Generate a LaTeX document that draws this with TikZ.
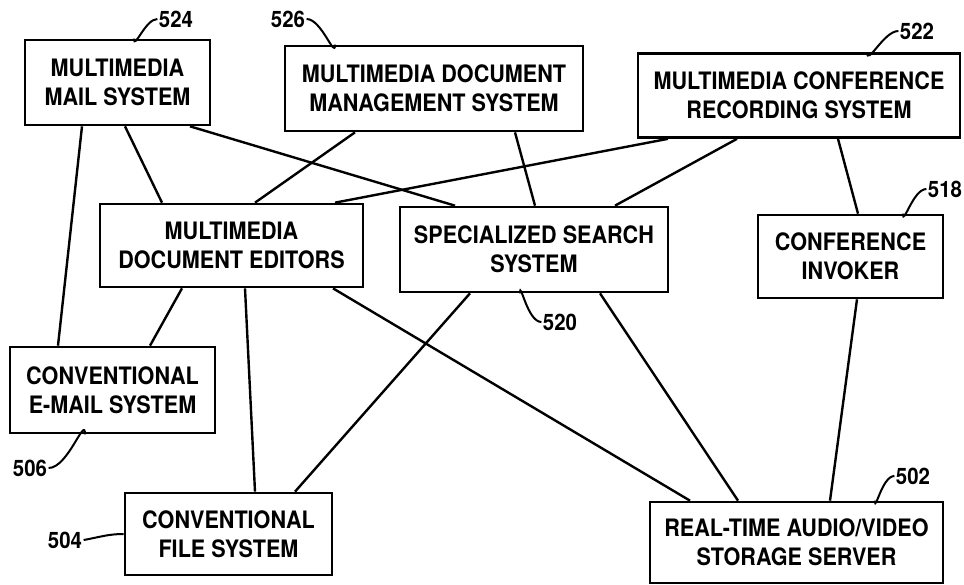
\documentclass[tikz,border=0pt]{standalone}
\usepackage{fontspec}
\newfontfamily\patfont[FakeStretch=0.9]{TeX Gyre Heros}
\usetikzlibrary{positioning,calc}
\tikzset{
	blk/.style={
		draw,
		line width=2pt,
		align=center,
		inner sep=0pt,
		font=\patfont\bfseries\fontsize{18}{21.5}\selectfont
	},
	lnk/.style={line width=1.8pt},
	refnum/.style={inner sep=1pt, font=\patfont\bfseries\fontsize{17}{20}\selectfont},
	lead/.style={line width=1.5pt}
}

\begin{document}
\begin{tikzpicture}[x=0.75pt, y=-0.75pt]
		\useasboundingbox (0,0) rectangle (964,585);
		\node[blk, minimum width=138.75pt, minimum height=63.75pt] (mail) at (117.5,82.5) {MULTIMEDIA\\MAIL SYSTEM};
		\node[blk, minimum width=223.5pt, minimum height=63.75pt] (mgmt) at (434,88.5) {MULTIMEDIA DOCUMENT\\MANAGEMENT SYSTEM};
		\node[blk, minimum width=241.5pt, minimum height=63pt] (confrec) at (799,95.5) {MULTIMEDIA CONFERENCE\\RECORDING SYSTEM};
		\node[blk, minimum width=197.25pt, minimum height=62.25pt] (editors) at (231.5,245.5) {MULTIMEDIA\\DOCUMENT EDITORS};
		\node[blk, minimum width=201pt, minimum height=63.75pt] (search) at (534,249.5) {SPECIALIZED SEARCH\\SYSTEM};
		\node[blk, minimum width=138.75pt, minimum height=62.25pt] (invoker) at (850.5,256.5) {CONFERENCE\\INVOKER};
		\node[blk, minimum width=153.75pt, minimum height=64.5pt] (email) at (112.5,390) {CONVENTIONAL\\E-MAIL SYSTEM};
		\node[blk, minimum width=155.25pt, minimum height=61.5pt] (filesys) at (228.5,534) {CONVENTIONAL\\FILE SYSTEM};
		\node[blk, minimum width=219.75pt, minimum height=60.75pt] (storage) at (796.5,542.5) {REAL-TIME AUDIO/VIDEO\\STORAGE SERVER};
		% links
		\draw[lnk] (mail.south -| 82,0) -- (email.north -| 58,0);
		\draw[lnk] (mail.south -| 125,0) -- (editors.north -| 162,0);
		\draw[lnk] (mail.south -| 190,0) -- (search.north -| 455,0);
		\draw[lnk] (mgmt.south -| 355,0) -- (editors.north -| 255,0);
		\draw[lnk] (mgmt.south -| 515,0) -- (search.north -| 535,0);
		\draw[lnk] (confrec.south -| 668,0) -- (editors.north -| 335,0);
		\draw[lnk] (confrec.south -| 737,0) -- (search.north -| 615,0);
		\draw[lnk] (confrec.south -| 838,0) -- (invoker.north -| 858,0);
		\draw[lnk] (editors.south -| 182,0) -- (email.north -| 150,0);
		\draw[lnk] (editors.south -| 245,0) -- (filesys.north -| 255,0);
		\draw[lnk] (editors.south -| 333,0) -- (storage.north -| 690,0);
		\draw[lnk] (search.south -| 470,0) -- (filesys.north -| 295,0);
		\draw[lnk] (search.south -| 600,0) -- (storage.north -| 738,0);
		\draw[lnk] (invoker.south -| 857,0) -- (storage.north -| 830,0);
		% reference numerals
		\node[refnum] (n524) at (176,19) {524};
		\node[refnum] (n526) at (288,19) {526};
		\node[refnum] (n522) at (917,31) {522};
		\node[refnum] (n518) at (945,189) {518};
		\node[refnum] (n520) at (560,322) {520};
		\node[refnum] (n506) at (30,468) {506};
		\node[refnum] (n504) at (65,540) {504};
		\node[refnum] (n502) at (913,476) {502};
		\draw[lead] (mail.north -| 134,0) to[out=-90,in=180] (n524.west);
		\draw[lead] (n526.east) to[out=0,in=-90] (mgmt.north -| 335,0);
		\draw[lead] (n522.west) to[out=180,in=-90] (confrec.north -| 867,0);
		\draw[lead] (n518.west) to[out=180,in=-90] (invoker.north -| 903,0);
		\draw[lead] (search.south -| 520,0) to[out=90,in=180] (n520.west);
		\draw[lead] (n506.east) to[out=0,in=90] (email.south -| 85,0);
		\draw[lead] (n504.east) to[out=10,in=180] (filesys.west);
		\draw[lead] (n502.west) to[out=180,in=-90] (storage.north -| 875,0);
	\end{tikzpicture}
\end{document}
